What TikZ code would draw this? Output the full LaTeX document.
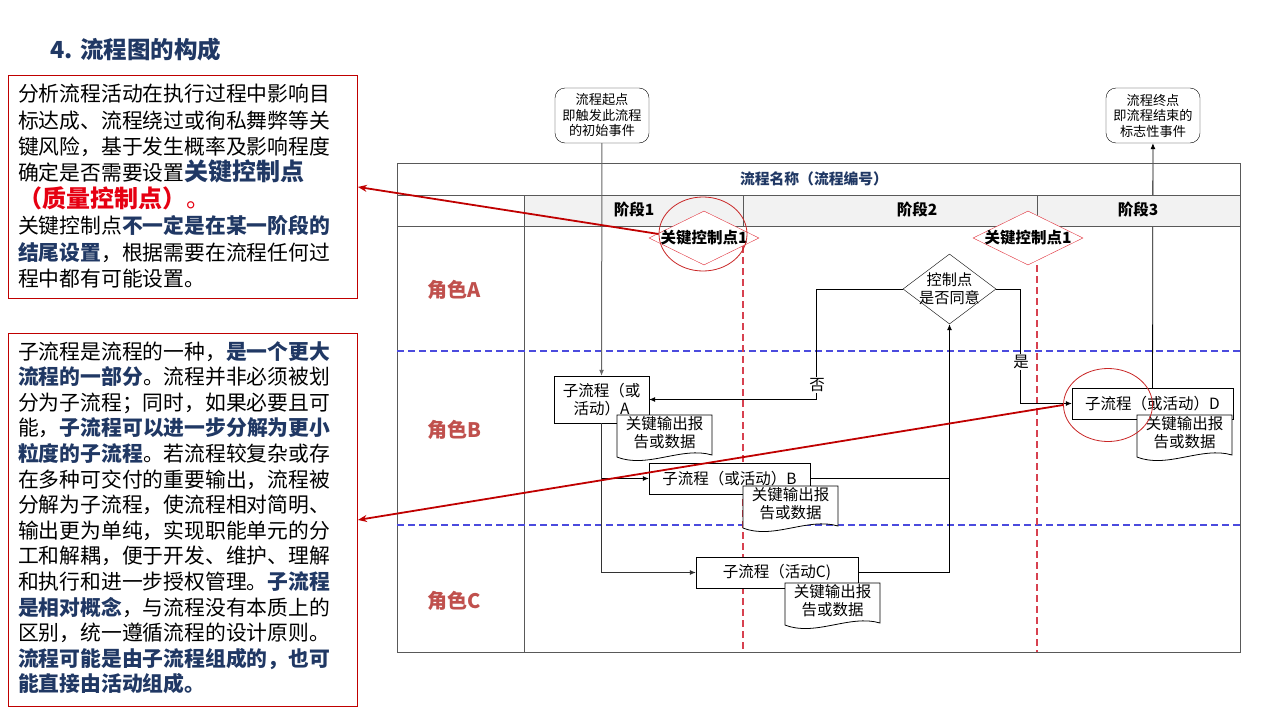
\documentclass[tikz,border=0pt]{standalone}
\usepackage{fontspec}
\setmainfont{Noto Sans CJK SC}
\usetikzlibrary{shapes.geometric,arrows.meta,backgrounds}
\definecolor{navy}{RGB}{32,56,100}
\definecolor{boxred}{RGB}{192,0,0}
\definecolor{hotred}{RGB}{230,0,18}
\definecolor{rolered}{RGB}{192,80,77}
\definecolor{headgray}{RGB}{242,242,242}
\definecolor{laneblue}{RGB}{75,75,222}
\definecolor{framegray}{RGB}{89,89,89}
\definecolor{keyred}{RGB}{225,50,60}
\definecolor{dashred}{RGB}{215,65,80}

\newcommand{\outdoc}[3]{%
  \draw[docline] (#2,#3) -- ++(95,0) -- ++(0,40) .. controls +(-30,-9) and +(30,12) .. ++(-95,2) -- cycle;
  \node (#1) [doctext] at (#2+47.5,#3+18) {关键输出报\\告或数据};
}

\begin{document}
\begin{tikzpicture}[x=1pt,y=-1pt,
  flowarrow/.style={-{Latex[length=6pt,width=5pt]}},
  callout/.style={boxred, line width=1.8pt, -{Stealth[length=9pt,width=7pt]}},
  subproc/.style={draw, fill=white, inner sep=0pt, align=center, font=\fontsize{15.5}{18}\selectfont},
  eventbox/.style={draw, fill=white, rounded corners=10pt, minimum width=94, minimum height=55, inner sep=0pt, align=center, font=\fontsize{13.2}{15.5}\selectfont},
  docline/.style={draw, fill=white, line width=0.8pt},
  doctext/.style={inner sep=0pt, align=center, font=\fontsize{15.5}{18}\selectfont},
  keyctrl/.style={diamond, draw=keyred, fill=white, aspect=2, inner xsep=-5pt, inner ysep=-3pt, minimum width=110, minimum height=54, font=\fontsize{15.5}{18}\selectfont\bfseries},
  decision/.style={diamond, draw, fill=white, aspect=1.35, inner sep=-5pt, minimum width=93, minimum height=70, align=center, font=\fontsize{15.2}{17.7}\selectfont},
  ring/.style={ellipse, draw=boxred!85!white, line width=0.8pt},
  stagelabel/.style={font=\fontsize{15.5}{18}\selectfont\bfseries},
  rolelabel/.style={text=rolered, font=\fontsize{20}{24}\selectfont\bfseries},
  lanesep/.style={laneblue, dashed, dash pattern=on 7pt off 4pt, line width=1.2pt},
  keysep/.style={dashred, dashed, dash pattern=on 7pt off 4pt, line width=1.2pt},
  branch/.style={line width=0.8pt}]
\useasboundingbox (0,0) rectangle (1280,720);

\node (Title) [anchor=west, text=navy, font=\fontsize{23.5}{28}\selectfont\bfseries] at (47,50) {4. 流程图的构成};

\node (RiskNote) [draw=boxred, line width=0.9pt, minimum width=349, minimum height=223, anchor=north west] at (8,75) {};
\node (RiskText) [anchor=north west, inner sep=0pt, align=left, font=\fontsize{20.8}{26.4}\selectfont] at (18,84) {%
分析流程活动在执行过程中影响目\\
标达成、流程绕过或徇私舞弊等关\\
键风险，基于发生概率及影响程度\\
确定是否需要设置{\fontsize{24}{26.4}\selectfont\bfseries\color{navy}关键控制点}\\
{\fontsize{24}{26.4}\selectfont\color{hotred}{\bfseries（质量控制点）}。}\\
关键控制点{\bfseries\color{navy}不一定是在某一阶段的}\\
{\bfseries\color{navy}结尾设置}，根据需要在流程任何过\\
程中都有可能设置。};

\node (SubNote) [draw=boxred, line width=0.9pt, minimum width=349, minimum height=373, anchor=north west] at (8,333) {};
\node (SubText) [anchor=north west, inner sep=0pt, align=left, font=\fontsize{20.8}{25.6}\selectfont] at (18,341) {%
子流程是流程的一种，{\bfseries\color{navy}是一个更大}\\
{\bfseries\color{navy}流程的一部分}。流程并非必须被划\\
分为子流程；同时，如果必要且可\\
能，{\bfseries\color{navy}子流程可以进一步分解为更小}\\
{\bfseries\color{navy}粒度的子流程}。若流程较复杂或存\\
在多种可交付的重要输出，流程被\\
分解为子流程，使流程相对简明、\\
输出更为单纯，实现职能单元的分\\
工和解耦，便于开发、维护、理解\\
和执行和进一步授权管理。{\bfseries\color{navy}子流程}\\
{\bfseries\color{navy}是相对概念}，与流程没有本质上的\\
区别，统一遵循流程的设计原则。\\
{\bfseries\color{navy}流程可能是由子流程组成的，也可}\\
{\bfseries\color{navy}能直接由活动组成。}};

\fill[headgray] (524,195) rectangle (1240,226);
\draw[framegray, line width=1pt] (397,163) rectangle (1240,652);
\draw[framegray, line width=1pt] (397,195) -- (1240,195);
\draw[framegray, line width=1pt] (397,226) -- (1240,226);
\draw[framegray, line width=1pt] (524,195) -- (524,652);
\draw[framegray, line width=1pt] (743,195) -- (743,226);
\draw[framegray, line width=1pt] (1037,195) -- (1037,226);
\draw[lanesep] (397,351) -- (1240,351);
\draw[lanesep] (397,525) -- (1240,525);
\draw[keysep] (743,246) -- (743,652);
\draw[keysep] (1037,265) -- (1037,652);

\node (ProcName) [text=navy, font=\fontsize{14.8}{18}\selectfont\bfseries] at (814,179) {流程名称（流程编号）};
\node (StageA) [stagelabel] at (634,210) {阶段1};
\node (StageB) [stagelabel] at (917,210) {阶段2};
\node (StageC) [stagelabel] at (1138,210) {阶段3};
\node (RoleA) [rolelabel] at (454,290) {角色A};
\node (RoleB) [rolelabel] at (454,430) {角色B};
\node (RoleC) [rolelabel] at (454,601) {角色C};

\node (StartEvt) [eventbox] at (602,115.5) {流程起点\\即触发此流程\\的初始事件};
\node (EndEvt) [eventbox] at (1153,115.5) {流程终点\\即流程结束的\\标志性事件};

\node (Decide) [decision] at (949.5,289) {控制点\\是否同意};
\node (SubA) [subproc, minimum width=95, minimum height=47] at (601.5,399.5) {子流程（或\\活动）A};
\node (SubB) [subproc, minimum width=161, minimum height=31] at (729.5,478.5) {子流程（或活动）B};
\node (SubC) [subproc, minimum width=162, minimum height=31] at (777,572.5) {子流程（活动C)};
\node (SubD) [subproc, minimum width=161, minimum height=31] at (1152.5,403.5) {子流程（或活动）D};

\begin{scope}[on background layer]
\fill[white] (0,0) rectangle (1280,720);
\draw[flowarrow, branch] (SubD) -- (EndEvt);
\end{scope}
\draw[flowarrow, black!60, line width=1pt] (StartEvt) -- (SubA);
\draw[flowarrow, branch, black!80] (SubA.south) |- (SubC.west);
\draw[flowarrow, branch] (SubA.south |- SubB.west) -- (SubB.west);
\draw[branch] (SubB.east) -- (SubB.east -| Decide.south);
\draw[flowarrow, branch] (SubC.east) -| (Decide.south);
\draw[flowarrow, branch] (Decide.west) -- ++(-86,0) |- (SubA.east);
\draw[flowarrow, branch] (Decide.east) -- ++(24,0) |- (SubD.west);
\node (NoLbl) [fill=white, inner sep=1pt, font=\fontsize{15.5}{18}\selectfont] at (817,385) {否};
\node (YesLbl) [fill=white, inner sep=1pt, font=\fontsize{15.5}{18}\selectfont] at (1021,362) {是};

\outdoc{DocA}{617}{415}
\outdoc{DocB}{743}{486}
\outdoc{DocC}{785}{583}
\outdoc{DocD}{1137}{415}

\node (KeyCtrlA) [keyctrl] at (704,238) {关键控制点1};
\node (KeyCtrlB) [keyctrl] at (1028,238) {关键控制点1};
\node (RingA) [ring, minimum width=88, minimum height=74] at (703,234) {};
\node (RingD) [ring, minimum width=89, minimum height=73] at (1108,405) {};

\draw[callout] (RingA.west) -- (RiskNote.east);
\draw[callout] (RingD.west) -- (SubNote.east);
\end{tikzpicture}
\end{document}
